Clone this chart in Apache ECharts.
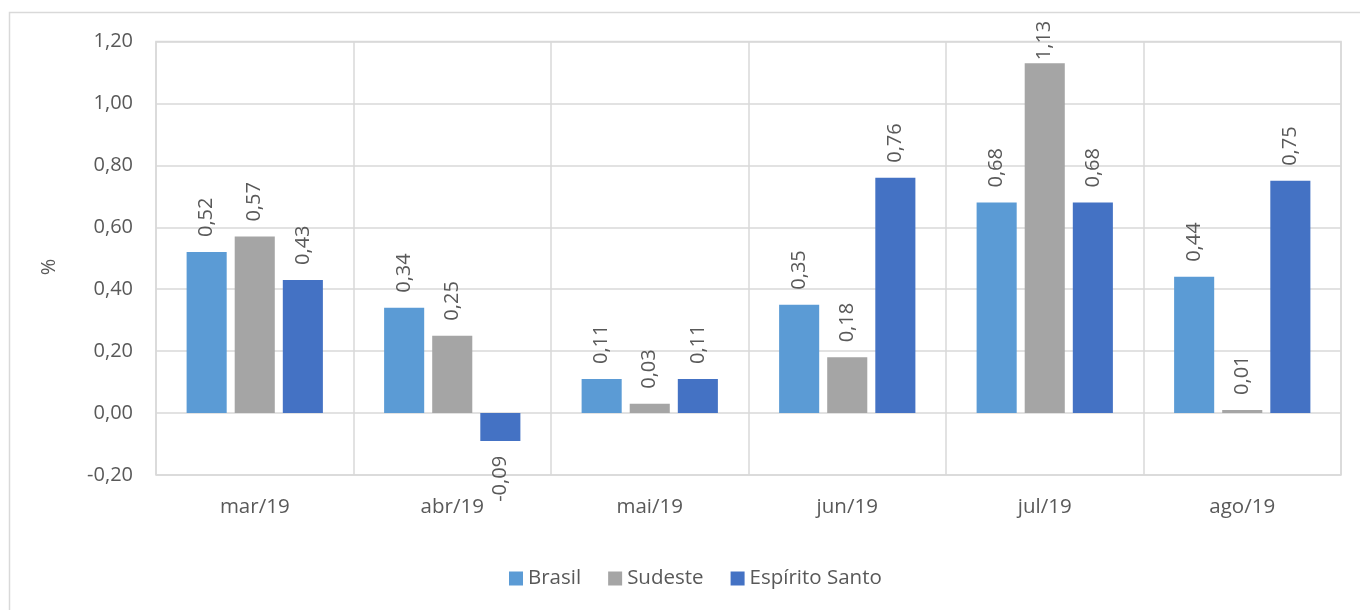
<!DOCTYPE html>
<html>
<head>
<meta charset="utf-8">
<script src="https://cdn.jsdelivr.net/npm/echarts@6/dist/echarts.min.js"></script>
<style>
  html, body { margin: 0; padding: 0; background: #fff; }
  #chart { width: 1360px; height: 610px; }
</style>
</head>
<body>
<div id="chart"></div>
<script>
// dados do gráfico
const months = ['mar/19', 'abr/19', 'mai/19', 'jun/19', 'jul/19', 'ago/19'];
const brasil = [0.52, 0.34, 0.11, 0.35, 0.68, 0.44];
const sudeste = [0.57, 0.25, 0.03, 0.18, 1.13, 0.01];
const espiritoSanto = [0.43, -0.09, 0.11, 0.76, 0.68, 0.75];

const TXT = '#595959';
const FONT = 'Open Sans';
const fmt = v => v.toFixed(2).replace('.', ',');

// rótulo girado: acima da barra se positivo, abaixo se negativo;
// perto do topo o rótulo encosta na barra (como no Excel)
function withLabels(values) {
  return values.map(v => {
    if (v < 0) return { value: v, label: { position: 'bottom', align: 'right' } };
    if (v > 1.1) return { value: v, label: { distance: 3 } };
    return v;
  });
}

function barSeries(name, values, color) {
  return {
    name,
    type: 'bar',
    data: withLabels(values),
    itemStyle: { color },
    barGap: '20%',
    barCategoryGap: '31%',
    label: {
      show: true,
      position: 'top',
      rotate: 90,
      align: 'left',
      verticalAlign: 'middle',
      distance: 15,
      color: TXT,
      fontFamily: FONT,
      fontSize: 20,
      formatter: p => fmt(p.value)
    }
  };
}

const chart = echarts.init(document.getElementById('chart'), null, { renderer: 'canvas' });

chart.setOption({
  animation: false,
  textStyle: { fontFamily: FONT },
  graphic: [{
    type: 'rect',
    shape: { x: 9.5, y: 12.5, width: 1400, height: 700 },
    style: { fill: 'none', stroke: '#d9d9d9', lineWidth: 1.5 },
    silent: true,
    z: -10
  }, {
    // título do eixo Y
    type: 'text',
    x: 49,
    y: 267,
    rotation: Math.PI / 2,
    style: {
      text: '%',
      fill: TXT,
      font: '20px "Open Sans"',
      align: 'center',
      verticalAlign: 'middle'
    },
    silent: true
  }],
  grid: {
    left: 156, right: 19, top: 41.5, bottom: 135,
    show: true, borderColor: '#d9d9d9', borderWidth: 1.5
  },
  legend: {
    top: 563,
    left: 504,
    icon: 'rect',
    itemWidth: 14,
    itemHeight: 14,
    itemGap: 27,
    textStyle: { color: TXT, fontSize: 20.5, fontFamily: FONT }
  },
  xAxis: {
    type: 'category',
    data: months,
    axisLine: { show: false, onZero: false },
    axisTick: { show: false },
    axisLabel: { color: TXT, fontSize: 20.5, fontFamily: FONT, margin: 22 },
    splitLine: { show: true, lineStyle: { color: '#d9d9d9', width: 1.5 } }
  },
  yAxis: {
    type: 'value',
    min: -0.2,
    max: 1.2,
    interval: 0.2,
    axisLine: { show: false },
    axisTick: { show: false },
    axisLabel: { color: TXT, fontSize: 20, fontFamily: FONT, margin: 23, formatter: fmt },
    splitLine: { show: true, lineStyle: { color: '#d9d9d9', width: 1.5 } }
  },
  series: [
    barSeries('Brasil', brasil, '#5B9BD5'),
    barSeries('Sudeste', sudeste, '#A5A5A5'),
    barSeries('Espírito Santo', espiritoSanto, '#4472C4')
  ]
});
</script>
</body>
</html>
